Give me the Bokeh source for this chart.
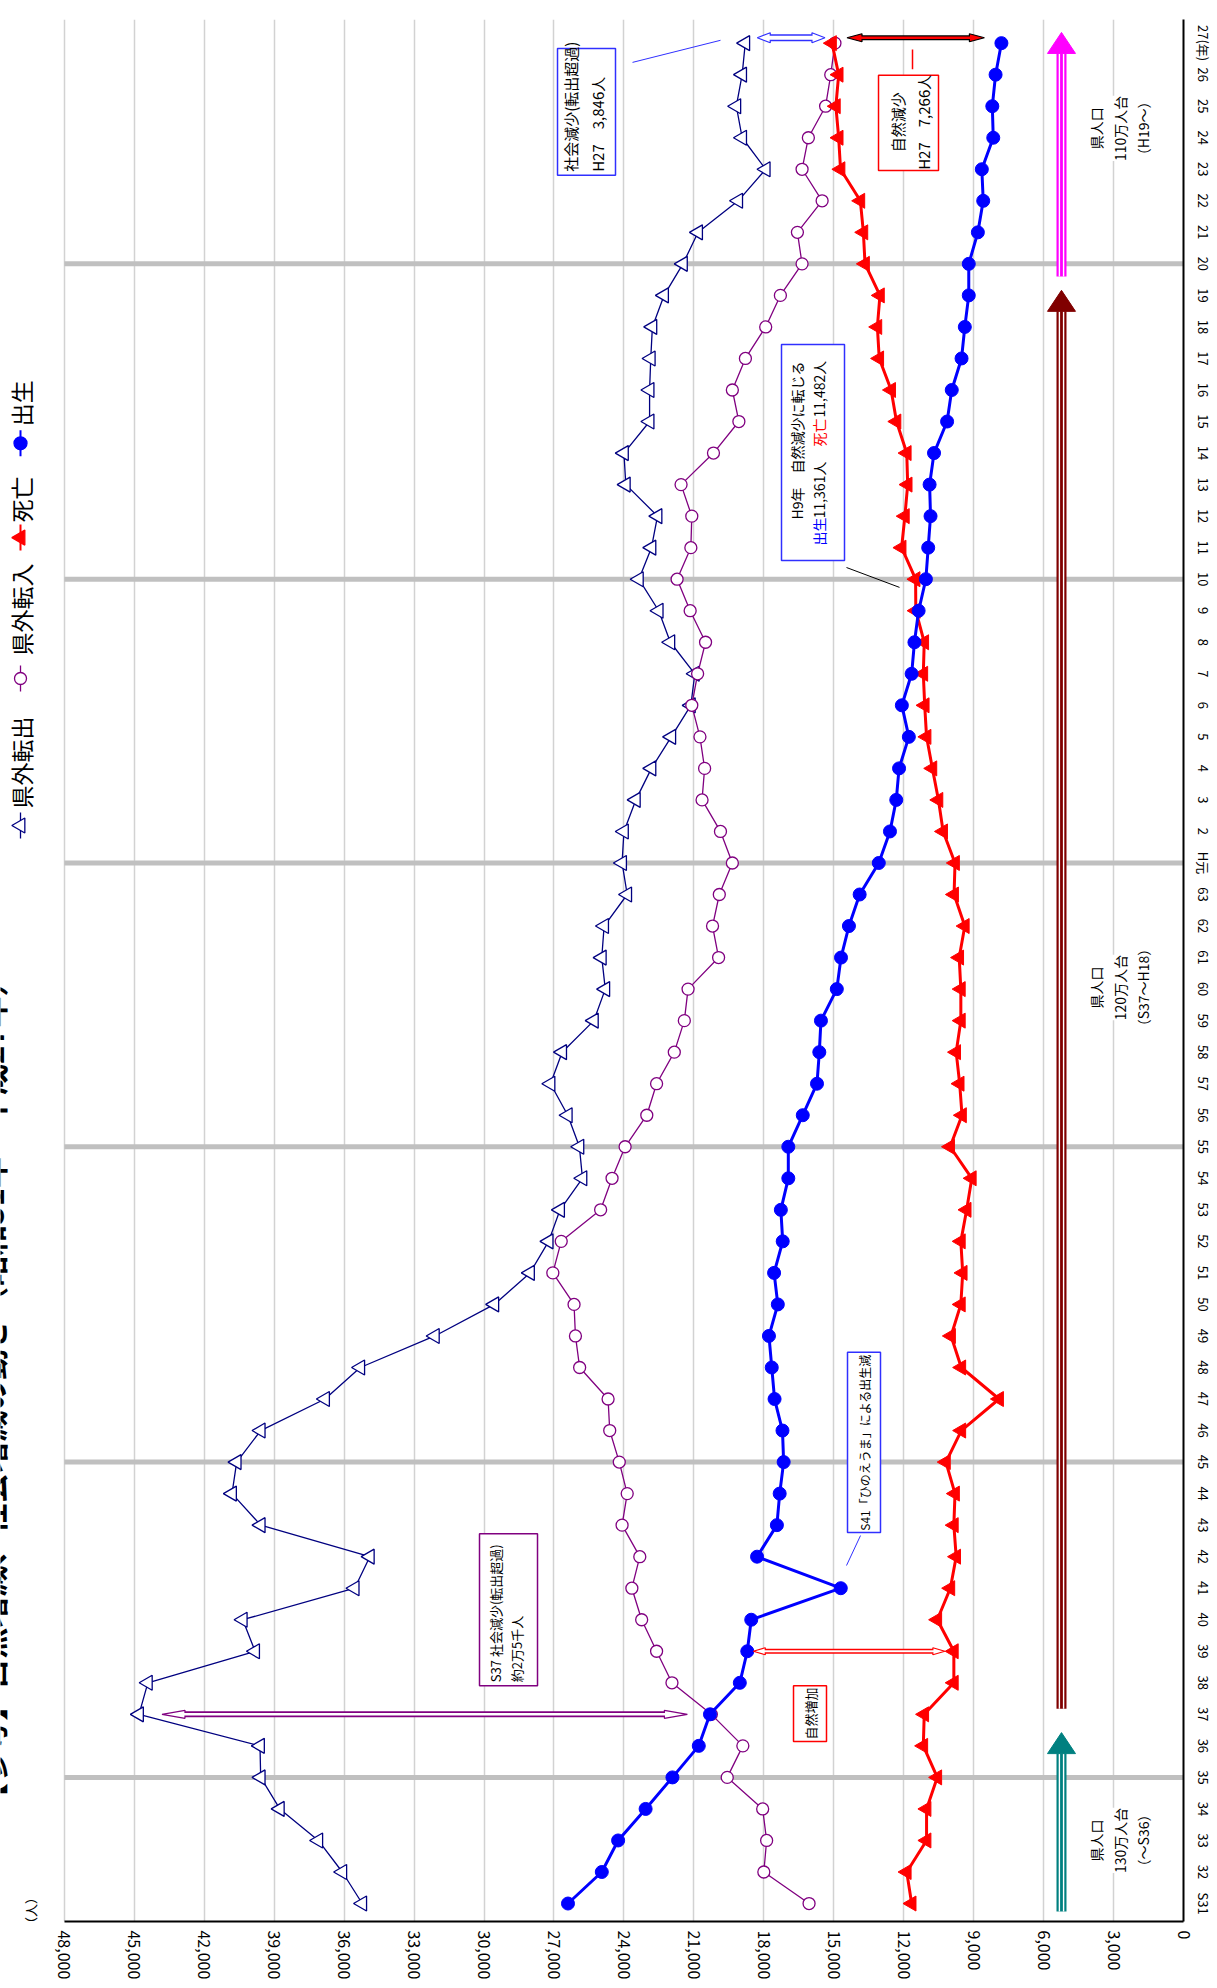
import math
from bokeh.plotting import figure
from bokeh.models import Range1d, FixedTicker, NumeralTickFormatter, Label
from bokeh.embed import file_html
from bokeh.resources import INLINE

FONT = "Noto Sans CJK JP"

# ---------------- data ----------------
year_labels = (["S31"] + [str(y) for y in range(32, 64)] + ["H元"]
               + [str(y) for y in range(2, 27)] + ["27(年)"])

births = [26400, 24950, 24250, 23070, 21920, 20790, 20310, 19030, 18710, 18540,
          14700, 18290, 17440, 17320, 17150, 17200, 17540, 17660, 17780, 17400,
          17560, 17190, 17270, 16950, 16950, 16330, 15720, 15620, 15550, 14870,
          14690, 14350, 13890, 13070, 12590, 12320, 12200, 11780, 12080, 11660,
          11540, 11361, 11050, 10950, 10850, 10890, 10700, 10140, 9940, 9520,
          9380, 9210, 9210, 8820, 8590, 8650, 8160, 8200, 8060, 7810]

deaths = [11660, 11870, 11020, 11020, 10560, 11160, 11120, 9850, 9850, 10560,
          10000, 9750, 9850, 9800, 10190, 9530, 7910, 9530, 9970, 9550,
          9470, 9550, 9300, 9080, 10010, 9500, 9600, 9750, 9550, 9550,
          9620, 9380, 9840, 9800, 10310, 10510, 10770, 11020, 11100, 11160,
          11120, 11482, 11490, 12090, 11950, 11830, 11870, 12310, 12540, 13050,
          13130, 13020, 13660, 13730, 13860, 14710, 14790, 14910, 14790, 15076]

move_in = [16060, 18000, 17880, 18050, 19570, 18900, 20250, 21940, 22600, 23240,
           23660, 23320, 24080, 23860, 24200, 24610, 24680, 25900, 26080, 26140,
           27050, 26690, 25000, 24510, 23950, 23020, 22600, 21840, 21410, 21250,
           19940, 20200, 19910, 19350, 19860, 20650, 20540, 20740, 21090, 20840,
           20500, 21160, 21720, 21130, 21090, 21550, 20160, 19070, 19350, 18790,
           17920, 17290, 16360, 16560, 15500, 16360, 16090, 15350, 15130, 14950]

move_out = [35225, 36080, 37110, 38760, 39580, 39610, 44800, 44420, 39820, 40350,
            35550, 34900, 39580, 40810, 40610, 39580, 36820, 35310, 32110, 29560,
            28030, 27230, 26740, 25780, 25910, 26410, 27150, 26650, 25290, 24800,
            24950, 24850, 23860, 24080, 24000, 23490, 22820, 21970, 21130, 20960,
            22010, 22510, 23360, 22820, 22560, 23920, 24000, 22900, 22900, 22850,
            22780, 22280, 21470, 20820, 19100, 17920, 18930, 19180, 18930, 18796]

value_ticks = list(range(0, 48001, 3000))
thick_years = ["35", "45", "55", "H元", "10", "20"]

idx = list(range(len(year_labels)))

# ---------------- figure ----------------
W, H = 1216, 1984
BL, BR, BT, BB = 0, 33, 19, 63
X_MAX = 50740
Y_MIN, Y_MAX = -0.57, 59.75
PXV = (W - BL - BR) / X_MAX            # px per value unit
PXI = (H - BT - BB) / (Y_MAX - Y_MIN)  # px per year index


def dv(px):
    return px / PXV


def di(px):
    return px / PXI


p = figure(width=W, height=H, x_range=Range1d(X_MAX, 0), y_range=Range1d(Y_MIN, Y_MAX),
           output_backend="svg", toolbar_location=None,
           x_axis_location="below", y_axis_location="right",
           min_border_left=BL, min_border_right=BR, min_border_top=BT, min_border_bottom=BB)
p.outline_line_color = None
p.background_fill_color = "white"
p.border_fill_color = "white"

# axes
p.xaxis.ticker = FixedTicker(ticks=value_ticks)
p.xaxis.formatter = NumeralTickFormatter(format="0,0")
p.xaxis.bounds = (0, value_ticks[-1])
p.xaxis.major_label_orientation = "vertical"
p.xaxis.major_label_text_font = FONT
p.xaxis.major_label_text_font_size = "16px"
p.xaxis.major_label_text_color = "black"
p.xaxis.major_label_standoff = 9
p.xaxis.major_tick_out = 0
p.xaxis.major_tick_in = 0
p.xaxis.minor_tick_line_color = None
p.xaxis.axis_line_width = 2
p.xaxis.axis_line_color = "black"

p.yaxis.ticker = FixedTicker(ticks=idx)
p.yaxis.major_label_overrides = {i: lab for i, lab in enumerate(year_labels)}
p.yaxis.major_label_orientation = "vertical"
p.yaxis.major_label_text_font = FONT
p.yaxis.major_label_text_font_size = "13px"
p.yaxis.major_label_text_color = "black"
p.yaxis.major_label_standoff = 10
p.yaxis.major_tick_out = 0
p.yaxis.major_tick_in = 0
p.yaxis.minor_tick_line_color = None
p.yaxis.axis_line_width = 2
p.yaxis.axis_line_color = "black"

# grids
p.xgrid.ticker = FixedTicker(ticks=value_ticks)
p.xgrid.grid_line_color = "#d2d2d2"
p.xgrid.grid_line_width = 1.5
p.ygrid.grid_line_color = None

thick_idx = [year_labels.index(t) for t in thick_years]
p.segment(x0=[value_ticks[-1]] * len(thick_idx), y0=thick_idx,
          x1=[0] * len(thick_idx), y1=thick_idx,
          line_color="#c0c0c0", line_width=5)

# ---------------- series ----------------
p.line(move_out, idx, line_color="#000080", line_width=1.3)
p.scatter(move_out, idx, marker="triangle", angle=math.pi / 2, size=15,
          fill_color="white", line_color="#000080", line_width=1.3)

p.line(move_in, idx, line_color="#800080", line_width=1.3)
p.scatter(move_in, idx, marker="circle", size=12,
          fill_color="white", line_color="#800080", line_width=1.3)

p.line(deaths, idx, line_color="#FF0000", line_width=3)
p.scatter(deaths, idx, marker="triangle", angle=math.pi / 2, size=15,
          fill_color="#FF0000", line_color="#FF0000")

p.line(births, idx, line_color="#0000FF", line_width=3)
p.scatter(births, idx, marker="circle", size=13,
          fill_color="#0000FF", line_color="#0000FF")


# ---------------- helpers ----------------
def text(x, y, s, size="14px", color="black", align="center", baseline="middle",
         bold=False, bg=None):
    lab = Label(x=x, y=y, text=s, angle=math.pi / 2, text_align=align,
                text_baseline=baseline, text_font=FONT, text_font_size=size,
                text_color=color, text_font_style="bold" if bold else "normal")
    if bg is not None:
        lab.background_fill_color = bg
    p.add_layout(lab)


def h_arrow(v_left, v_right, y, color, inner, head_len, head_w, shaft_w, inner_w):
    L = dv(head_len)
    hw = di(head_w / 2.0)
    p.patches(xs=[[v_left, v_left - L, v_left - L], [v_right, v_right + L, v_right + L]],
              ys=[[y, y + hw, y - hw], [y, y + hw, y - hw]],
              fill_color=inner, line_color=color, line_width=1.2)
    p.segment(x0=[v_left - L], y0=[y], x1=[v_right + L], y1=[y],
              line_color=color, line_width=shaft_w)
    p.segment(x0=[v_left - L + dv(1.5)], y0=[y], x1=[v_right + L - dv(1.5)], y1=[y],
              line_color=inner, line_width=inner_w)


def v_arrow(v, i0, i1, color):
    hl = di(21)
    p.segment(x0=[v], y0=[i0], x1=[v], y1=[i1 - hl], line_color=color, line_width=10)
    p.segment(x0=[v - dv(2.1), v + dv(2.1)], y0=[i0, i0],
              x1=[v - dv(2.1), v + dv(2.1)], y1=[i1 - hl, i1 - hl],
              line_color="white", line_width=1.4)
    p.patch(x=[v, v + dv(14), v - dv(14)], y=[i1, i1 - hl, i1 - hl],
            fill_color=color, line_color=color)


def box(l, r, b, t, color):
    p.quad(left=[l], right=[r], bottom=[b], top=[t], fill_color="white",
           line_color=color, line_width=1.5)


# ---------------- population arrows ----------------
POP_V = 5233
pop_periods = [("130万人台", "（～S36）", -0.25, 5.42, "#008080", 2.0),
               ("120万人台", "（S37～H18）", 6.18, 51.16, "#800000", 29.05),
               ("110万人台", "（H19～）", 51.6, 59.34, "#FF00FF", 56.3)]
for l2, l3, i0, i1, col, yc in pop_periods:
    v_arrow(POP_V, i0, i1, col)
    text(3774, yc, "県人口", size="14px")
    text(2745, yc, l2, size="14px", bg="white")
    text(1716, yc, l3, size="14px")

# ---------------- difference arrows ----------------
i37 = year_labels.index("37")
i39 = year_labels.index("39")
i27 = len(year_labels) - 1
h_arrow(move_out[i37] - dv(23), move_in[i37] + dv(24), i37, "#800080", "white", 23, 8, 6, 2.5)
h_arrow(births[i39] - dv(6), deaths[i39] + dv(9), i39, "#FF0000", "white", 12, 7, 5, 2)
h_arrow(move_out[i27] - dv(12), move_in[i27] + dv(10), i27 + 0.17, "#3030FF", "white", 13, 10, 7, 4)
h_arrow(deaths[i27] - dv(15), births[i27] + dv(17), i27 + 0.17, "black", "#FF0000", 15, 8, 5, 2.6)

# connector lines
p.segment(x0=[23632], y0=[58.39], x1=[19858], y1=[59.09], line_color="#3030FF", line_width=1)
p.segment(x0=[11623], y0=[58.17], x1=[11623], y1=[58.80], line_color="#FF0000", line_width=1.5)
p.segment(x0=[14454], y0=[42.37], x1=[12181], y1=[41.74], line_color="black", line_width=1)
p.segment(x0=[13853], y0=[11.67], x1=[14454], y1=[10.72], line_color="#3030FF", line_width=1)

# ---------------- annotation boxes ----------------
box(26849, 24362, 54.81, 58.83, "#3030FF")
text(26291, 54.92, "社会減少(転出超過)", size="15px", align="left")
text(25134, 54.92, "H27　3,846人", size="15px", align="left")

box(13081, 10508, 54.96, 57.98, "#FF0000")
text(12267, 56.49, "自然減少", size="15px")
text(11151, 56.49, "H27　7,266人", size="15px")

box(17242, 14540, 42.59, 49.44, "#3030FF")
text(16598, 46.40, "H9年　自然減少に転じる")
text(15655, 43.07, "出生", color="#0000FF", align="left")
text(15655, 43.93, "11,361人", align="left")
text(15655, 46.21, "死亡", color="#FF0000", align="left")
text(15655, 47.13, "11,482人", align="left")

box(14411, 12996, 11.77, 17.48, "#3030FF")
text(13703, 14.62, "S41「ひのえうま」による出生減", size="12px")

box(16727, 15312, 5.14, 6.91, "#FF0000")
text(16019, 6.03, "自然増加", size="13px")

box(30195, 27707, 6.91, 11.73, "#800080")
text(29508, 7.02, "S37 社会減少(転出超過)", size="13px", align="left")
text(28607, 7.02, "約2万5千人", size="13px", align="left")

# ---------------- legend ----------------
LEG_V = 49882
legend_items = [("県外転出", 34.19, 34.73, "triangle", "white", "#000080", 15),
                ("県外転入", 38.85, 39.58, "circle", "white", "#800080", 12),
                ("死亡", 43.32, 43.80, "triangle", "#FF0000", "#FF0000", 15),
                ("出生", 46.31, 46.85, "circle", "#0000FF", "#0000FF", 13)]
for name, ym, yt, mk, fc, lc, sz in legend_items:
    p.segment(x0=[LEG_V], y0=[ym - di(13)], x1=[LEG_V], y1=[ym + di(13)],
              line_color=lc, line_width=2 if fc != "white" else 1.3)
    p.scatter([LEG_V], [ym], marker=mk, angle=math.pi / 2 if mk == "triangle" else 0,
              size=sz, fill_color=fc, line_color=lc, line_width=1.3)
    text(LEG_V, yt, name, size="23px", align="left")

# ---------------- title and unit ----------------
text(50183, 2.85, "【参考】自然増減、社会増減の動き（昭和31年～平成27年）",
     size="31px", align="left", baseline="bottom", bold=True)
text(49454, -0.22, "（人）", size="13px")

open("out.html", "w").write(file_html(p, INLINE))
